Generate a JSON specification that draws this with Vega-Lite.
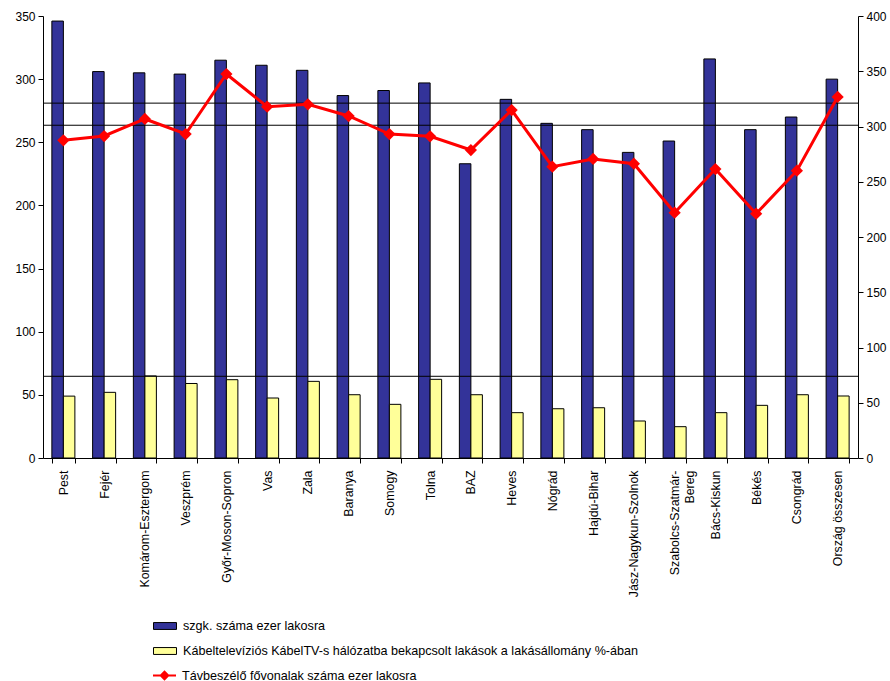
{
  "$schema": "https://vega.github.io/schema/vega-lite/v6.json",
  "autosize": "none",
  "width": 815,
  "height": 442,
  "padding": {"left": 43, "top": 16, "right": 32, "bottom": 223},
  "background": "white",
  "config": {
    "font": "Liberation Sans",
    "view": {"stroke": null},
    "axis": {
      "labelFont": "Liberation Sans",
      "labelFontSize": 12,
      "labelColor": "#000000",
      "domainColor": "#000000",
      "tickColor": "#000000",
      "grid": false,
      "title": null
    },
    "legend": {
      "labelFont": "Liberation Sans",
      "labelFontSize": 12.6,
      "labelColor": "#000000",
      "labelLimit": 600,
      "title": null,
      "padding": 0
    }
  },
  "datasets": {
    "megyek": [
      {"megye": "Pest", "szgk": 346, "kabel": 49, "tav": 287.5},
      {"megye": "Fejér", "szgk": 306, "kabel": 52, "tav": 291.4},
      {"megye": "Komárom-Esztergom", "szgk": 305, "kabel": 65, "tav": 306.8},
      {"megye": "Veszprém", "szgk": 304, "kabel": 59, "tav": 293.2},
      {"megye": "Győr-Moson-Sopron", "szgk": 315, "kabel": 62, "tav": 347.5},
      {"megye": "Vas", "szgk": 311, "kabel": 47.5, "tav": 317.9},
      {"megye": "Zala", "szgk": 307, "kabel": 60.7, "tav": 320.1},
      {"megye": "Baranya", "szgk": 287, "kabel": 50.1, "tav": 309.5},
      {"megye": "Somogy", "szgk": 291, "kabel": 42.5, "tav": 293.2},
      {"megye": "Tolna", "szgk": 297, "kabel": 62.3, "tav": 291.1},
      {"megye": "BAZ", "szgk": 233, "kabel": 50.1, "tav": 278.7},
      {"megye": "Heves", "szgk": 284, "kabel": 35.9, "tav": 314.9},
      {"megye": "Nógrád", "szgk": 265, "kabel": 39, "tav": 263.6},
      {"megye": "Hajdú-Bihar", "szgk": 260, "kabel": 39.8, "tav": 270.6},
      {"megye": "Jász-Nagykun-Szolnok", "szgk": 242, "kabel": 29.3, "tav": 266.3},
      {"megye": "Szabolcs-Szatmár-Bereg", "szgk": 251, "kabel": 24.8, "tav": 222},
      {"megye": "Bács-Kiskun", "szgk": 316, "kabel": 35.9, "tav": 261.5},
      {"megye": "Békés", "szgk": 260, "kabel": 41.7, "tav": 221.1},
      {"megye": "Csongrád", "szgk": 270, "kabel": 50.1, "tav": 260},
      {"megye": "Ország összesen", "szgk": 300, "kabel": 49.1, "tav": 326.7}
    ],
    "vonalak": [
      {"szint": 281},
      {"szint": 263.5},
      {"szint": 64.7}
    ]
  },
  "layer": [
    {
      "data": {"name": "megyek"},
      "transform": [{"fold": ["szgk", "kabel"], "as": ["sorozat", "ertek"]}],
      "mark": {"type": "bar", "stroke": "#000000", "strokeWidth": 1},
      "encoding": {
        "x": {
          "field": "megye",
          "type": "nominal",
          "sort": null,
          "scale": {"paddingInner": 0.435, "paddingOuter": 0.2175},
          "axis": {
            "labelAngle": 270,
            "labelAlign": "right",
            "labelBaseline": "middle",
            "labelPadding": 7,
            "labelFontSize": 12.4,
            "tickBand": "extent",
            "tickSize": 5,
            "labelLimit": 200,
            "labelExpr": "datum.value == 'Szabolcs-Szatmár-Bereg' ? ['Szabolcs-Szatmár-', 'Bereg'] : datum.label"
          }
        },
        "xOffset": {"field": "sorozat", "type": "nominal", "sort": ["szgk", "kabel"]},
        "y": {
          "field": "ertek",
          "type": "quantitative",
          "scale": {"domain": [0, 350], "nice": false, "zero": true},
          "axis": {"orient": "left", "values": [0, 50, 100, 150, 200, 250, 300, 350], "tickSize": 5, "labelPadding": 3}
        },
        "fill": {
          "field": "sorozat",
          "type": "nominal",
          "scale": {"domain": ["szgk", "kabel"], "range": ["#333399", "#FFFF99"]},
          "legend": {
            "orient": "none",
            "legendX": 110,
            "legendY": 598,
            "symbolType": "M-1,-0.3H1V0.3H-1Z",
            "symbolSize": 529,
            "symbolStrokeColor": "#000000",
            "symbolStrokeWidth": 1,
            "rowPadding": 6,
            "labelOffset": 6,
            "labelExpr": "datum.value == 'szgk' ? 'szgk. száma ezer lakosra' : 'Kábeltelevíziós KábelTV-s hálózatba bekapcsolt lakások a lakásállomány %-ában'"
          }
        }
      }
    },
    {
      "data": {"name": "vonalak"},
      "mark": {"type": "rule", "color": "#000000", "strokeWidth": 1},
      "encoding": {
        "y": {"field": "szint", "type": "quantitative", "scale": {"domain": [0, 350], "nice": false, "zero": true}, "axis": null}
      }
    },
    {
      "data": {"name": "megyek"},
      "mark": {"type": "line", "strokeWidth": 3},
      "encoding": {
        "x": {"field": "megye", "type": "nominal", "sort": null},
        "y": {
          "field": "tav",
          "type": "quantitative",
          "scale": {"domain": [0, 400], "nice": false, "zero": true},
          "axis": {"orient": "right", "values": [0, 50, 100, 150, 200, 250, 300, 350, 400], "tickSize": 5, "labelPadding": 3}
        },
        "stroke": {
          "datum": "Távbeszélő fővonalak száma ezer lakosra",
          "scale": {"range": ["#FF0000"]},
          "legend": {
            "orient": "none",
            "legendX": 110,
            "legendY": 648,
            "symbolType": "M-1,-0.09H1V0.09H-1Z M0,-0.45L0.45,0L0,0.45L-0.45,0Z",
            "symbolSize": 529,
            "symbolStrokeWidth": 0,
            "symbolFillColor": "#FF0000",
            "labelOffset": 6,
            "encode": {"symbols": {"update": {"fill": {"value": "#FF0000"}, "strokeWidth": {"value": 0}}}}
          }
        }
      }
    },
    {
      "data": {"name": "megyek"},
      "mark": {"type": "point", "shape": "diamond", "filled": true, "size": 150, "color": "#FF0000", "opacity": 1},
      "encoding": {
        "x": {"field": "megye", "type": "nominal", "sort": null},
        "y": {"field": "tav", "type": "quantitative", "scale": {"domain": [0, 400], "nice": false, "zero": true}, "axis": null}
      }
    }
  ],
  "resolve": {"scale": {"y": "independent"}}
}
